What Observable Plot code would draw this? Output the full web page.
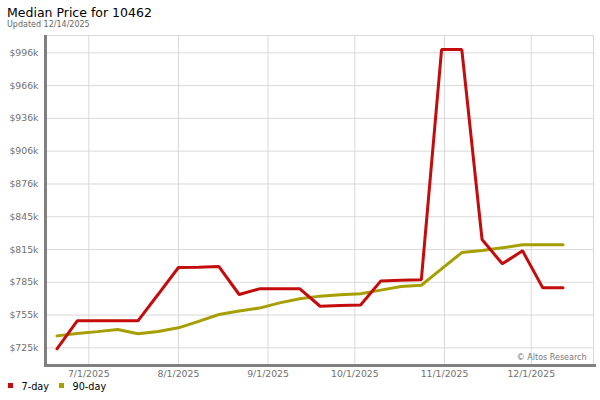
<!DOCTYPE html>
<html><head><meta charset="utf-8">
<script src="https://cdn.jsdelivr.net/npm/d3@7"></script>
<script src="https://cdn.jsdelivr.net/npm/@observablehq/plot@0.6"></script>
<style>
body{margin:0;background:#fff;font-family:"DejaVu Sans",sans-serif;}
#page{position:relative;width:600px;height:400px;overflow:hidden;background:#fff;}
.t{position:absolute;white-space:nowrap;line-height:1;}
#title{left:7px;top:7.4px;font-size:12.5px;color:#000;}
#sub{left:7px;top:20.5px;font-size:8px;color:#666;}
#chart{position:absolute;left:0;top:30px;}
.sw{position:absolute;top:383px;width:5px;height:5px;}
.lt{top:381.8px;font-size:9.7px;color:#000;}
</style></head>
<body><div id="page">
<div id="title" class="t">Median Price for 10462</div>
<div id="sub" class="t">Updated 12/14/2025</div>
<div id="chart"></div>
<div class="sw" style="left:8px;background:#c40c0c"></div>
<div class="t lt" style="left:21.5px">7-day</div>
<div class="sw" style="left:59px;background:#a59f00"></div>
<div class="t lt" style="left:72.5px">90-day</div>
</div>
<script>
const dates = ["2025-06-20","2025-06-27","2025-07-04","2025-07-11","2025-07-18","2025-07-25",
  "2025-08-01","2025-08-08","2025-08-15","2025-08-22","2025-08-29","2025-09-05","2025-09-12",
  "2025-09-19","2025-09-26","2025-10-03","2025-10-10","2025-10-17","2025-10-24","2025-10-31",
  "2025-11-07","2025-11-14","2025-11-21","2025-11-28","2025-12-05","2025-12-12"];
// median price, $ thousands
const price7day = [724.6,750.3,750.3,750.3,750.3,774.7,799.3,799.5,800.2,774.5,779.7,779.7,779.7,
  763.7,764.5,764.8,787.0,787.5,788.0,999.5,999.5,825.0,802.7,814.6,780.6,780.6];
const price90day = [736.5,738.6,740.4,742.3,738.4,740.5,743.9,749.8,756.1,759.4,762.0,766.8,770.6,
  773.0,774.3,775.2,778.5,781.8,783.0,798.0,813.0,815.0,817.4,820.1,820.1,820.1];
const xTickDates = ["2025-07-01","2025-08-01","2025-09-01","2025-10-01","2025-11-01","2025-12-01"];
const xTickLabels = ["7/1/2025","8/1/2025","9/1/2025","10/1/2025","11/1/2025","12/1/2025"];
const yTickValues = [725.5,755.6,785.7,815.8,845.9,876.0,906.2,936.3,966.4,996.5];
const yTickLabels = ["$725k","$755k","$785k","$815k","$845k","$876k","$906k","$936k","$966k","$996k"];

const parse = d3.utcParse("%Y-%m-%d");
const rows7 = dates.map((d,i)=>({date:parse(d), v:price7day[i]}));
const rows90 = dates.map((d,i)=>({date:parse(d), v:price90day[i]}));
const xTicks = xTickDates.map(parse);
const xFmt = d => { const i = xTicks.findIndex(t=>+t===+d); return i<0?"":xTickLabels[i]; };
const yFmt = d => { const i = yTickValues.indexOf(d); return i<0?"":yTickLabels[i]; };
const xDomain = [new Date(Date.UTC(2025,5,16,9)), new Date(Date.UTC(2025,11,22,13))];
const yDomain = [710.2, 1012.4];
const grid = "#d9d9d9";

const chart = Plot.plot({
  width:600, height:348, marginTop:5, marginLeft:46, marginRight:7, marginBottom:14,
  style:{fontFamily:"DejaVu Sans", fontSize:"9.3px", color:"#707070", background:"transparent", overflow:"visible"},
  x:{type:"utc", domain:xDomain, ticks:xTicks, tickFormat:xFmt, tickSize:0, tickPadding:6, label:null},
  y:{domain:yDomain, ticks:yTickValues, tickFormat:yFmt, tickSize:0, tickPadding:8, label:null},
  marks:[
    Plot.ruleX(xTicks, {stroke:grid, strokeWidth:1}),
    Plot.ruleY(yTickValues, {stroke:grid, strokeWidth:1}),
    Plot.frame({stroke:grid}),
    Plot.line(rows90, {x:"date", y:"v", stroke:"#a59f00", strokeWidth:3, strokeLinejoin:"miter"}),
    Plot.line(rows7, {x:"date", y:"v", stroke:"#c40c0c", strokeWidth:3, strokeLinejoin:"miter"}),
    Plot.ruleX([xDomain[0]], {stroke:"#808080", strokeWidth:3, dx:-1, insetBottom:-2}),
    Plot.ruleY([yDomain[0]], {stroke:"#808080", strokeWidth:3, dy:1, insetLeft:-2, insetRight:-3}),
    Plot.text(["© Altos Research"], {frameAnchor:"bottom-right", text:d=>d, textAnchor:"end", dx:-7, dy:-5, fill:"#777", fontSize:8})
  ]
});
document.getElementById("chart").appendChild(chart);
</script>
</body></html>
